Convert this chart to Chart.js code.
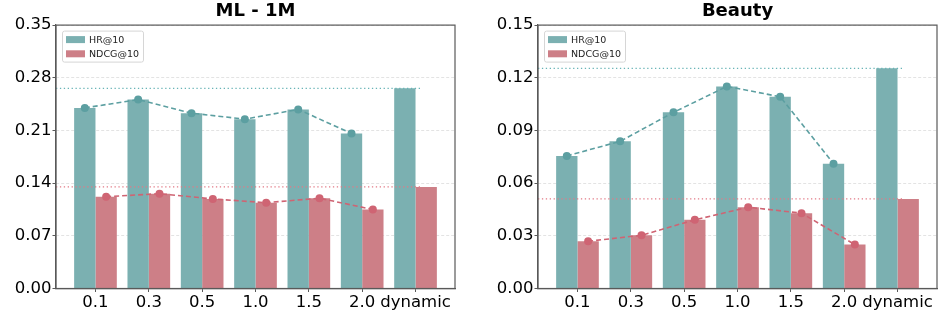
<!DOCTYPE html>
<html>
<head>
<meta charset="utf-8">
<script src="https://cdn.jsdelivr.net/npm/chart.js@4.4.1/dist/chart.umd.min.js"></script>
<style>
  html, body { margin: 0; padding: 0; background: #fff; }
  #wrap { position: relative; width: 947px; height: 321px; }
  canvas { position: absolute; top: 0; }
</style>
</head>
<body>
<div id="wrap">
  <canvas id="mlChart" width="470" height="321" style="left:0px"></canvas>
  <canvas id="beautyChart" width="470" height="321" style="left:477px"></canvas>
</div>
<script>
const params = ['0.1', '0.3', '0.5', '1.0', '1.5', '2.0', 'dynamic'];

const mlHR = [0.240, 0.251, 0.233, 0.225, 0.238, 0.206, 0.266];
const mlNDCG = [0.122, 0.126, 0.119, 0.114, 0.120, 0.105, 0.135];
const mlTicks = [0, 0.07, 0.14, 0.21, 0.28, 0.35];

const beautyHR = [0.0755, 0.0838, 0.1003, 0.1151, 0.1092, 0.0711, 0.1254];
const beautyNDCG = [0.0269, 0.0303, 0.0391, 0.0463, 0.0429, 0.0250, 0.0510];
const beautyTicks = [0, 0.03, 0.06, 0.09, 0.12, 0.15];

const hrBar = '#7bb0b1';
const ndcgBar = '#cd7f87';
const hrLine = '#5c9fa1';
const ndcgLine = '#cf6473';

const frame = {
    id: 'frame',
    afterDraw(chart) {
        const { ctx, chartArea: a } = chart;
        ctx.save();
        ctx.strokeStyle = '#595959';
        ctx.lineWidth = 1.2;
        ctx.strokeRect(a.left, a.top, a.right - a.left, a.bottom - a.top);
        ctx.restore();
    }
};

const boxLegend = {
    id: 'boxLegend',
    afterDraw(chart) {
        const { ctx, chartArea: a } = chart;
        const bars = chart.data.datasets.filter(d => d.type === 'bar');
        const x = a.left + 6, y = a.top + 5.5, w = 81, h = 31;
        ctx.save();
        ctx.beginPath();
        ctx.roundRect(x + 0.5, y + 0.5, w, h, 2);
        ctx.fillStyle = 'rgba(255,255,255,0.85)';
        ctx.fill();
        ctx.strokeStyle = '#d6d6d6';
        ctx.lineWidth = 1;
        ctx.stroke();
        ctx.font = '9.5px "DejaVu Sans"';
        ctx.textBaseline = 'middle';
        bars.forEach((d, i) => {
            const cy = y + 9 + i * 14.2;
            ctx.fillStyle = d.backgroundColor;
            ctx.fillRect(x + 4, cy - 3.5, 19, 7);
            ctx.fillStyle = '#222';
            ctx.fillText(d.label, x + 27, cy + 0.5);
        });
        ctx.restore();
    }
};

function makeChart(id, title, hr, ndcg, yTicks, yWidth, rightPad) {
    const pts = (vals, shift) => vals.slice(0, 6).map((v, i) => ({ x: i + shift, y: v }));
    const bars = vals => vals.map((v, i) => ({ x: i, y: v }));
    const dyn = vals => [{ x: -0.74, y: vals[6] }, { x: 6.1, y: vals[6] }];

    new Chart(document.getElementById(id), {
        data: {
            datasets: [
                { type: 'bar', label: 'HR@10', data: bars(hr), backgroundColor: hrBar, order: 2,
                  categoryPercentage: 0.8, barPercentage: 1.0 },
                { type: 'bar', label: 'NDCG@10', data: bars(ndcg), backgroundColor: ndcgBar, order: 2,
                  categoryPercentage: 0.8, barPercentage: 1.0 },
                { type: 'line', label: 'hr trend', data: pts(hr, -0.2), borderColor: hrLine,
                  backgroundColor: hrLine, borderWidth: 1.6, borderDash: [5, 3], pointRadius: 4,
                  pointBorderWidth: 0, order: 0 },
                { type: 'line', label: 'ndcg trend', data: pts(ndcg, 0.2), borderColor: ndcgLine,
                  backgroundColor: ndcgLine, borderWidth: 1.6, borderDash: [5, 3], pointRadius: 4,
                  pointBorderWidth: 0, order: 0 },
                { type: 'line', label: 'hr dynamic', data: dyn(hr), borderColor: '#68b4b6',
                  borderWidth: 1.3, borderDash: [1.3, 2.6], pointRadius: 0, order: 1 },
                { type: 'line', label: 'ndcg dynamic', data: dyn(ndcg), borderColor: '#e27a86',
                  borderWidth: 1.3, borderDash: [1.3, 2.6], pointRadius: 0, order: 1 }
            ]
        },
        options: {
            responsive: false,
            animation: false,
            layout: { padding: { left: 0, right: rightPad, top: 0, bottom: 0 } },
            scales: {
                x: {
                    type: 'linear',
                    offset: false,
                    min: -0.74,
                    max: 6.74,
                    afterBuildTicks: s => { s.ticks = params.map((p, i) => ({ value: i })); },
                    afterFit: s => { s.height = 32.5; },
                    ticks: {
                        callback: v => params[v],
                        color: '#000',
                        font: { family: 'DejaVu Sans', size: 16.5 },
                        padding: 1,
                        maxRotation: 0,
                        autoSkip: false
                    },
                    grid: { offset: false, drawOnChartArea: false, drawTicks: true, tickLength: 3.5, tickColor: '#595959' },
                    border: { display: true, color: '#595959', width: 1.2 }
                },
                y: {
                    min: 0,
                    max: yTicks[yTicks.length - 1],
                    afterBuildTicks: s => { s.ticks = yTicks.map(v => ({ value: v })); },
                    afterFit: s => { s.width = yWidth; },
                    ticks: {
                        callback: v => v.toFixed(2),
                        color: '#000',
                        font: { family: 'DejaVu Sans', size: 16.5 },
                        padding: 1
                    },
                    grid: { color: '#e3e3e3', lineWidth: 1, tickLength: 3.5, tickColor: '#595959' },
                    border: { display: true, color: '#595959', width: 1.2, dash: [3, 2] }
                }
            },
            plugins: {
                legend: { display: false },
                tooltip: { enabled: false },
                title: {
                    display: true,
                    text: title,
                    fullSize: false,
                    color: '#000',
                    font: { family: 'DejaVu Sans', size: 18, weight: 'bold' },
                    padding: { top: 1, bottom: 2.5 }
                }
            }
        },
        plugins: [frame, boxLegend]
    });
}

makeChart('mlChart', 'ML - 1M', mlHR, mlNDCG, mlTicks, 56, 15);
makeChart('beautyChart', 'Beauty', beautyHR, beautyNDCG, beautyTicks, 61, 10);
</script>
</body>
</html>
